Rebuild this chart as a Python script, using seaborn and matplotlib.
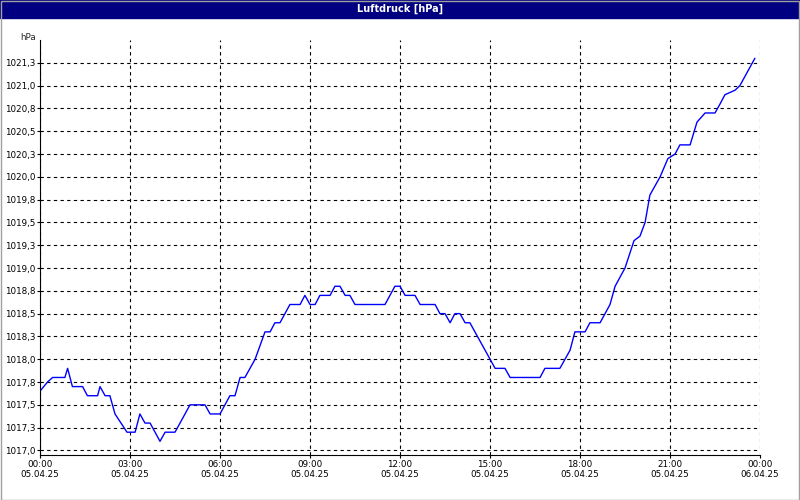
import matplotlib
matplotlib.use("Agg")
import matplotlib.pyplot as plt
import seaborn as sns
import pandas as pd

hours = [0, 0.25, 0.42, 0.83, 0.92, 1.08, 1.42, 1.58, 1.92, 2.0, 2.17, 2.33, 2.5, 2.9, 3.17, 3.33, 3.5, 3.67, 4.0, 4.17, 4.5,
         5.0, 5.5, 5.67, 6.0, 6.33, 6.5, 6.67, 6.83, 7.17, 7.5, 7.67, 7.83, 8.0, 8.33, 8.67, 8.83, 9.0, 9.17, 9.33, 9.67,
         9.83, 10.0, 10.17, 10.33, 10.5, 11.5, 11.83, 12.0, 12.17, 12.5, 12.67, 13.17, 13.33, 13.5, 13.67, 13.83, 14.0,
         14.17, 14.33, 15.17, 15.5, 15.67, 16.67, 16.83, 17.33, 17.67, 17.83, 18.17, 18.33, 18.67, 19.0, 19.17, 19.5,
         19.8, 20.0, 20.17, 20.33, 20.67, 20.93, 21.17, 21.33, 21.67, 21.9, 22.17, 22.5, 22.67, 22.83, 23.17, 23.33, 23.83]
pressure = [1017.65, 1017.75, 1017.8, 1017.8, 1017.9, 1017.7, 1017.7, 1017.6, 1017.6, 1017.7, 1017.6, 1017.6, 1017.4, 1017.2,
            1017.2, 1017.4, 1017.3, 1017.3, 1017.1, 1017.2, 1017.2,
            1017.5, 1017.5, 1017.4, 1017.4, 1017.6, 1017.6, 1017.8, 1017.8, 1018.0, 1018.3, 1018.3, 1018.4, 1018.4, 1018.6,
            1018.6, 1018.7, 1018.6, 1018.6, 1018.7, 1018.7,
            1018.8, 1018.8, 1018.7, 1018.7, 1018.6, 1018.6, 1018.8, 1018.8, 1018.7, 1018.7, 1018.6, 1018.6, 1018.5, 1018.5,
            1018.4, 1018.5, 1018.5,
            1018.4, 1018.4, 1017.9, 1017.9, 1017.8, 1017.8, 1017.9, 1017.9, 1018.1, 1018.3, 1018.3, 1018.4, 1018.4, 1018.6,
            1018.8, 1019.0,
            1019.3, 1019.35, 1019.5, 1019.8, 1020.0, 1020.2, 1020.25, 1020.35, 1020.35, 1020.6, 1020.7, 1020.7, 1020.8,
            1020.9, 1020.95, 1021.0, 1021.3]
xticks = [0, 3, 6, 9, 12, 15, 18, 21, 24]
xlabels = ["00:00\n05.04.25", "03:00\n05.04.25", "06:00\n05.04.25", "09:00\n05.04.25", "12:00\n05.04.25",
           "15:00\n05.04.25", "18:00\n05.04.25", "21:00\n05.04.25", "00:00\n06.04.25"]
yticks = [1017 + 0.25 * i for i in range(18)]
ylabels = ["1017,0", "1017,3", "1017,5", "1017,8", "1018,0", "1018,3", "1018,5", "1018,8", "1019,0", "1019,3",
           "1019,5", "1019,8", "1020,0", "1020,3", "1020,5", "1020,8", "1021,0", "1021,3"]

sns.set_style("white")
plt.rcParams['font.family'] = ['DejaVu Sans']
fig = plt.figure(figsize=(8, 5), dpi=100)
fig.patch.set_facecolor("white")
fig.patches.append(plt.Rectangle((0, 0.964), 1, 0.036, transform=fig.transFigure, color="#000080", zorder=0))
fig.patches.append(plt.Rectangle((0.001, 0.001), 0.998, 0.998, transform=fig.transFigure, fill=False,
                                 edgecolor="#a0a0a0", linewidth=1, zorder=0))
fig.text(0.5, 0.982, "Luftdruck [hPa]", color="white", ha="center", va="center", fontsize=7, fontweight="bold")

ax = fig.add_axes([0.05, 0.09, 0.90, 0.83])
df = pd.DataFrame({"h": hours, "p": pressure})
sns.lineplot(data=df, x="h", y="p", ax=ax, color="#0000ff", linewidth=1)
ax.set_xlim(0, 24)
ax.set_ylim(1016.95, 1021.5)
ax.set_xticks(xticks)
ax.set_xticklabels(xlabels, fontsize=6.3)
ax.set_yticks(yticks)
ax.set_yticklabels(ylabels, fontsize=6.3)
ax.grid(True, color="black", linestyle=(0, (3, 3)), linewidth=0.8)
ax.set_xlabel("")
ax.set_ylabel("")
for s in ["top", "right"]:
    ax.spines[s].set_visible(False)
for s in ["left", "bottom"]:
    ax.spines[s].set_color("black")
ax.tick_params(axis="both", length=2, pad=1.5, color="black", labelcolor="black", left=True, bottom=True)
ax.text(-0.005, 0.995, "hPa", transform=ax.transAxes, ha="right", va="bottom", fontsize=6.3)
fig.savefig("out.png", dpi=100)
